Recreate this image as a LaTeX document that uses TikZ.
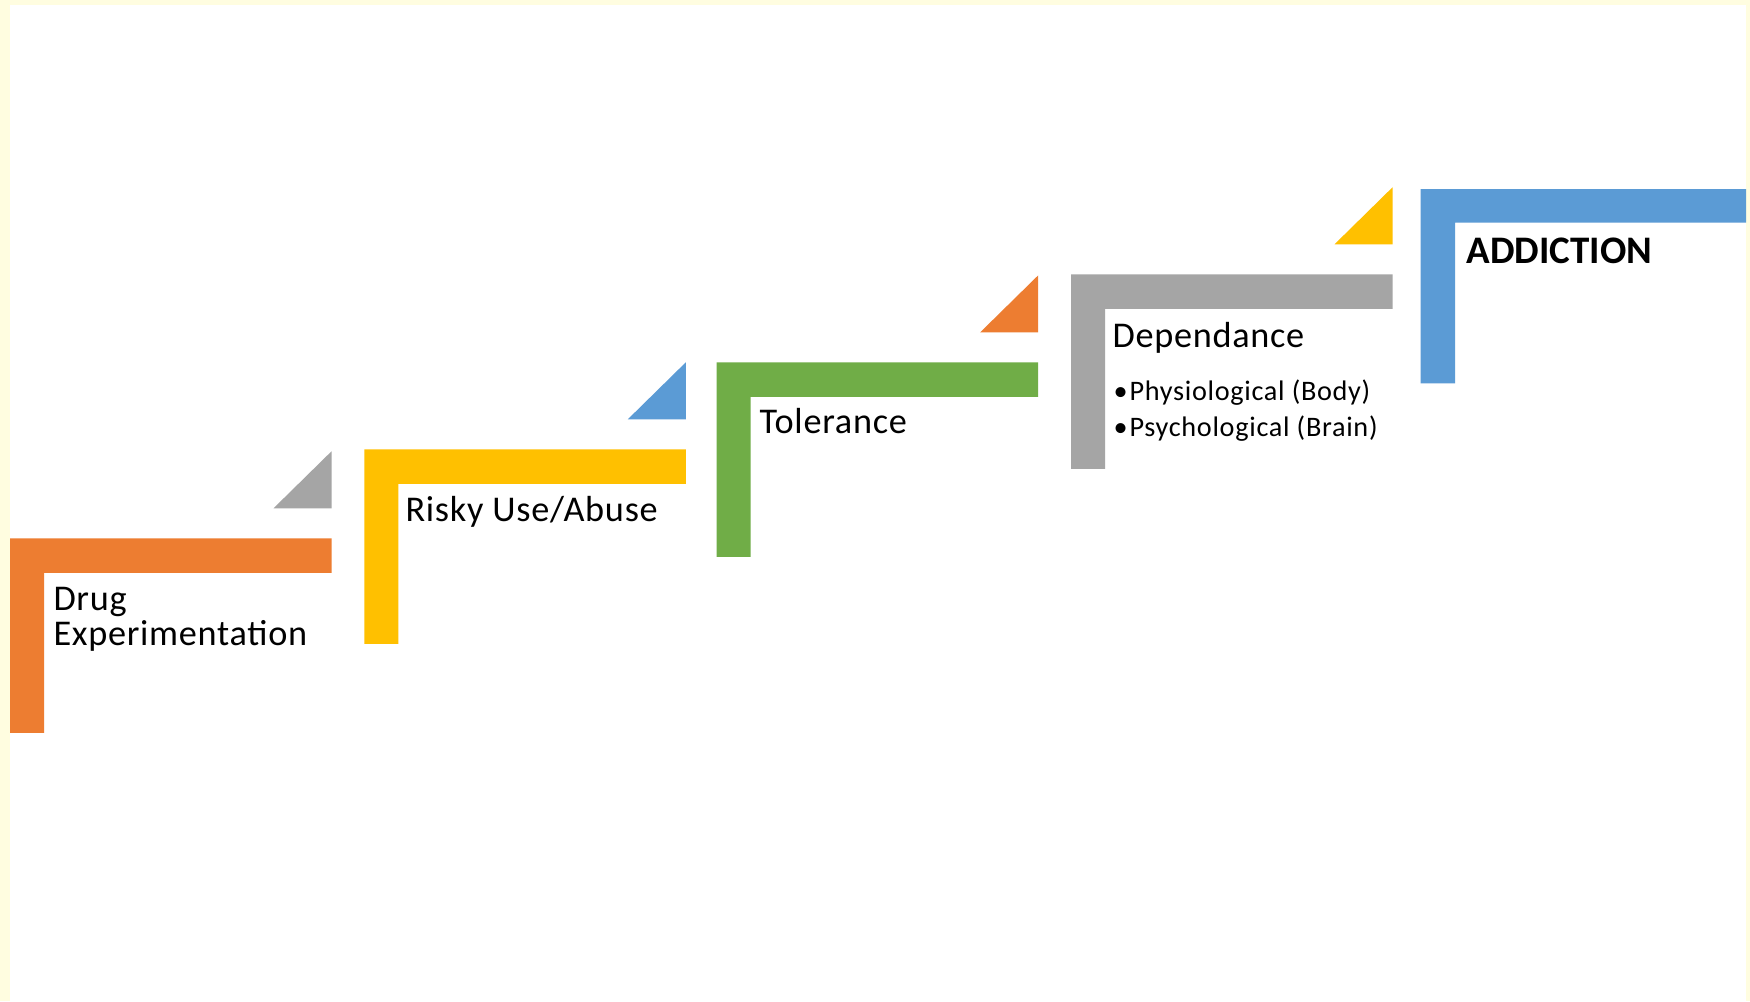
\documentclass[tikz,border=0pt]{standalone}
\usepackage{fontspec}
\setmainfont{Carlito}
\definecolor{pageyellow}{HTML}{FFFDE0}
\definecolor{stOrange}{HTML}{ED7D31}
\definecolor{stYellow}{HTML}{FFC000}
\definecolor{stGreen}{HTML}{70AD47}
\definecolor{stGray}{HTML}{A5A5A5}
\definecolor{stBlue}{HTML}{5B9BD5}
\tikzset{
  lbl/.style={anchor=base west, inner sep=0pt, text=black,
    font=\fontsize{14.5}{17}\selectfont\addfontfeatures{LetterSpace=2}},
  sublbl/.style={anchor=base west, inner sep=0pt, text=black,
    font=\fontsize{11.3}{13}\selectfont\addfontfeatures{LetterSpace=2.5}},
  toplbl/.style={anchor=base west, inner sep=0pt, text=black,
    font=\fontsize{15.6}{19}\bfseries\selectfont},
}
\usetikzlibrary{calc}
% one stair step: an L-shaped bar with its top-left corner at (#1,#2),
% colour #3, and a small corner triangle of colour #4 above its right end
\newcommand\stairstep[4]{%
  \fill[#3] (#1,#2) -- ++(321.5,0) -- ++(0,34.5) -- ++(-287.5,0)
    -- ++(0,160) -- ++(-34,0) -- cycle;
  \fill[#4] ($(#1,#2)+(321.5,-30)$) -- ++(-58,0) -- ++(58,-57) -- cycle;
}
\begin{document}
\begin{tikzpicture}[x=0.4pt,y=-0.4pt]
  % page with its pale frame
  \fill[pageyellow] (0,0) rectangle (1750,1001);
  \fill[white] (10,5) rectangle (1746,1001);
  \useasboundingbox (0,0) rectangle (1750,1001);

  \stairstep{10}{538.3}{stOrange}{stGray}
  \stairstep{364.3}{449.3}{stYellow}{stBlue}
  \stairstep{716.7}{362.3}{stGreen}{stOrange}
  \stairstep{1071}{274.3}{stGray}{stYellow}
  % last step runs into the frame on the right
  \fill[stBlue] (1420.7,189) -- (1746,189) -- (1746,222.7) -- (1455,222.7)
    -- (1455,383.3) -- (1420.7,383.3) -- cycle;

  \node[lbl] (drug1) at (53,610) {Drug};
  \node[lbl] (drug2) at (53,645) {Experimentation};
  \node[lbl] (risky) at (405,521) {Risky Use/Abuse};
  \node[lbl] (toler) at (759,433.3) {Tolerance};
  \node[lbl] (depend) at (1112,347.7) {Dependance};
  \node[sublbl] (dot1) at (1113,400) {\textbullet};
  \node[sublbl] (phys) at (1129,400) {Physiological (Body)};
  \node[sublbl] (dot2) at (1113,436.7) {\textbullet};
  \node[sublbl] (psych) at (1129,436.7) {Psychological (Brain)};
  \node[toplbl] (addict) at (1466,263.3) {ADDICTION};
\end{tikzpicture}
\end{document}
